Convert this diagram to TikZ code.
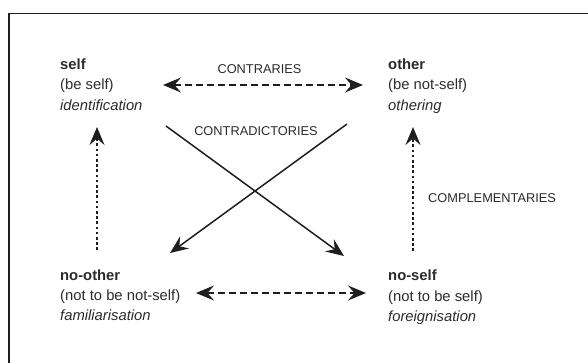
\documentclass[tikz,border=0pt]{standalone}
\usepackage{fontspec}
\setmainfont{Liberation Sans}
\usetikzlibrary{arrows.meta}
\definecolor{txt}{HTML}{2B2B2B}
\definecolor{ln}{HTML}{1E1E1E}
\begin{document}
\begin{tikzpicture}[x=1pt,y=-1pt,
  term/.style={anchor=base west,inner sep=0pt,text=txt,font=\fontsize{14.8}{18}\selectfont},
  rel/.style={inner sep=0pt,text=txt,font=\fontsize{12.8}{15}\selectfont},
  dashedarrow/.style={draw=ln,line width=1.4pt,dash pattern=on 7pt off 4pt,{Stealth[length=18pt,width=15pt,inset=6.5pt]}-{Stealth[length=18pt,width=15pt,inset=6.5pt]}},
  dottedarrow/.style={draw=ln,line width=1.4pt,dash pattern=on 2.6pt off 2.6pt,-{Stealth[length=18pt,width=15pt,inset=6.5pt]}},
  solidarrow/.style={draw=ln,line width=1.5pt,-{Stealth[length=18pt,width=15pt,inset=6.5pt]}}
]
\useasboundingbox (0,0) rectangle (588,363);
% frame
\draw[ln,line width=1.4pt] (9,370) -- (9,13.5) -- (600,13.5);

% terms
\node[term] (self) at (60,69.5) {\textbf{self}};
\node[term] (selfb) at (60,90) {(be self)};
\node[term] (selfc) at (60,110.5) {\textit{identification}};

\node[term] (other) at (388,69.5) {\textbf{other}};
\node[term] (otherb) at (388,90) {(be not-self)};
\node[term] (otherc) at (388,110.5) {\textit{othering}};

\node[term] (noother) at (60,280) {\textbf{no-other}};
\node[term] (nootherb) at (60,300.5) {(not to be not-self)};
\node[term] (nootherc) at (60,320.5) {\textit{familiarisation}};

\node[term] (noself) at (388,280.5) {\textbf{no-self}};
\node[term] (noselfb) at (388,301) {(not to be self)};
\node[term] (noselfc) at (388,321) {\textit{foreignisation}};

% relation labels
\node[rel] (contraries) at (259.5,69.5) {CONTRARIES};
\node[rel] (contradictories) at (256,131.5) {CONTRADICTORIES};
\node[rel,anchor=west] (complementaries) at (428,198) {COMPLEMENTARIES};

% connector end points
\coordinate (c1l) at (163,85);
\coordinate (c1r) at (363,85);
\coordinate (c2l) at (196,293);
\coordinate (c2r) at (366,293);
\coordinate (d1s) at (166,126);
\coordinate (d1e) at (344,256);
\coordinate (d2s) at (347,124);
\coordinate (d2e) at (170,253);
\coordinate (v1s) at (97,250);
\coordinate (v1e) at (97,127);
\coordinate (v2s) at (413,251);
\coordinate (v2e) at (413,127);

\draw[dashedarrow] (c1l) -- (c1r);
\draw[dashedarrow] (c2l) -- (c2r);
\draw[solidarrow] (d1s) -- (d1e);
\draw[solidarrow] (d2s) -- (d2e);
\draw[dottedarrow] (v1s) -- (v1e);
\draw[dottedarrow] (v2s) -- (v2e);
\end{tikzpicture}
\end{document}
